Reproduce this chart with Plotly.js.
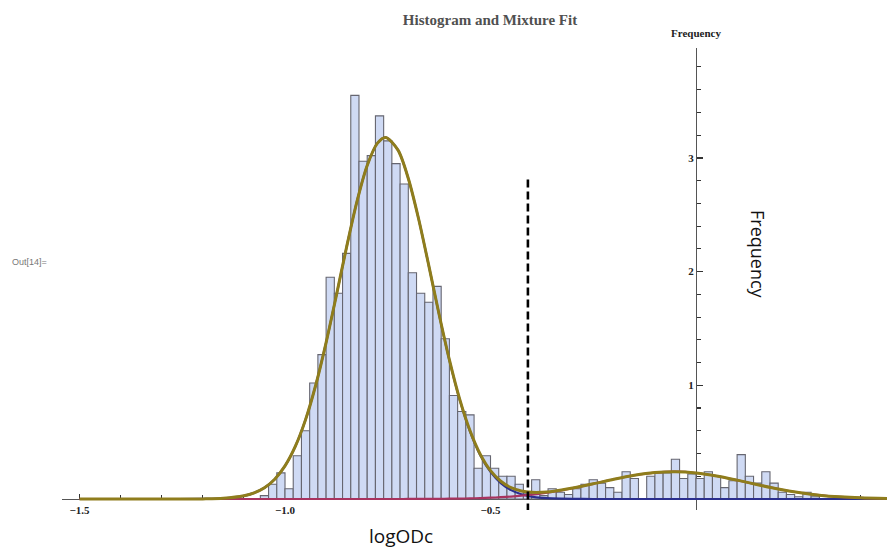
<!DOCTYPE html>
<html><head><meta charset="utf-8">
<script src="https://cdn.plot.ly/plotly-3.0.1.min.js"></script>
<style>html,body{margin:0;padding:0;background:#fff}#chart{width:887px;height:550px}</style>
</head><body><div id="chart"></div>
<script>
// ---- data ----
const binStart = -1.06;
const binWidth = 0.02;
const binCounts = [0.03,0.13,0.23,0.09,0.38,0.60,1.02,1.27,1.95,1.81,2.16,3.55,2.97,3.02,3.37,3.15,2.95,2.77,1.99,1.81,1.73,1.87,1.41,0.91,0.77,0.74,0.27,0.38,0.27,0.20,0.20,0.13,0.05,0.17,0.03,0.09,0.06,0.04,0.09,0.13,0.17,0.14,0.10,0.06,0.24,0.18,0,0.20,0.23,0.23,0.35,0.18,0.22,0.18,0.24,0.20,0.10,0.16,0.39,0.20,0.14,0.24,0.14,0.06,0.04,0.02,0.06,0.02];

const curveX = [-1.5,-1.3,-1.2,-1.15,-1.1,-1.075,-1.05,-1.025,-1.0,-0.975,-0.95,-0.925,-0.9,-0.875,-0.85,-0.825,-0.8,-0.775,-0.755,-0.725,-0.7,-0.675,-0.65,-0.625,-0.6,-0.575,-0.55,-0.525,-0.5,-0.475,-0.45,-0.425,-0.4,-0.375,-0.35,-0.3,-0.25,-0.2,-0.15,-0.1,-0.05,0,0.05,0.1,0.15,0.2,0.25,0.3,0.35,0.4,0.465];
const mixtureTotal = [0,0,0.001,0.006,0.028,0.054,0.099,0.174,0.291,0.462,0.698,1.005,1.376,1.791,2.219,2.616,2.934,3.130,3.180,3.068,2.819,2.465,2.050,1.623,1.223,0.878,0.602,0.394,0.249,0.156,0.100,0.071,0.059,0.059,0.067,0.096,0.134,0.174,0.209,0.233,0.240,0.229,0.203,0.166,0.126,0.088,0.057,0.034,0.019,0.010,0.004];
const component1 = [0,0,0.001,0.006,0.028,0.054,0.099,0.174,0.291,0.462,0.698,1.005,1.376,1.791,2.219,2.616,2.934,3.130,3.180,3.068,2.819,2.464,2.049,1.621,1.220,0.874,0.596,0.386,0.238,0.140,0.078,0.042,0.021,0.010,0.005,0.001,0,0,0,0,0,0,0,0,0,0,0,0,0,0,0];
const component2 = [0,0,0,0,0,0,0,0,0,0,0,0,0,0,0,0,0,0,0,0,0.0004,0.0006,0.001,0.0016,0.0025,0.0037,0.0055,0.0079,0.0113,0.0158,0.0216,0.029,0.0382,0.0494,0.0627,0.095,0.1335,0.1735,0.2088,0.2326,0.240,0.229,0.2025,0.1656,0.1255,0.088,0.0571,0.0343,0.0191,0.0098,0.0037];

const cutoffX = [-0.409, -0.409];
const cutoffY = [2.81, -0.0967];

const xTickVals = [-1.5, -1.0, -0.5];
const xTickText = ['\u22121.5', '\u22121.0', '\u22120.5'];
const yTickVals = [1, 2, 3];
const yTickText = ['1', '2', '3'];

// ---- build ----
const binCenters = binCounts.map((_, i) => +(binStart + (i + 0.5) * binWidth).toFixed(3));

const traces = [
  {type:'bar', x: binCenters, y: binCounts, width: binWidth,
   marker:{color:'#cfdaf4', line:{color:'#666670', width:1.1}}, hoverinfo:'skip', showlegend:false},
  {type:'scatter', mode:'lines', x: curveX, y: component1,
   line:{color:'#2b2f8e', width:2.2, shape:'spline', smoothing:0.8}, hoverinfo:'skip', showlegend:false},
  {type:'scatter', mode:'lines', x: curveX, y: component2,
   line:{color:'#a8335f', width:2.2, shape:'spline', smoothing:0.8}, hoverinfo:'skip', showlegend:false},
  {type:'scatter', mode:'lines', x: curveX, y: mixtureTotal,
   line:{color:'#8f7d1c', width:3, shape:'spline', smoothing:0.8}, hoverinfo:'skip', showlegend:false},
  {type:'scatter', mode:'lines', x: cutoffX, y: cutoffY,
   line:{color:'#000', width:2.6, dash:'8px,4px'}, hoverinfo:'skip', showlegend:false}
];

const W = 887, H = 550;
const layout = {
  width: W, height: H,
  margin:{l:0, r:0, t:0, b:0},
  paper_bgcolor:'#fff', plot_bgcolor:'rgba(0,0,0,0)',
  showlegend:false,
  title:{text:'Histogram and Mixture Fit', x:490/W, xanchor:'center', y:1-20/H, yanchor:'middle',
         font:{family:'Liberation Serif, serif', size:15, color:'#505050', weight:'bold'}},
  xaxis:{domain:[62/W, 1], range:[-1.5426, 0.4647], anchor:'free', position:1-499/H,
         showgrid:false, zeroline:false, showline:true, linecolor:'#555', linewidth:1.3,
         layer:'below traces', automargin:false,
         tickmode:'array', tickvals:xTickVals, ticktext:xTickText,
         ticks:'inside', ticklen:5, tickwidth:1.2, tickcolor:'#333',
         tickfont:{family:'Liberation Serif, serif', size:11, color:'#222', weight:'bold'},
         minor:{tickmode:'linear', tick0:0, dtick:0.1, ticks:'inside', ticklen:4, tickwidth:1.1, tickcolor:'#333', showgrid:false},
         fixedrange:true},
  yaxis:{domain:[40/H, 502/H], range:[-0.0967, 3.9666], anchor:'free', position:696/W,
         showgrid:false, zeroline:false, showline:true, linecolor:'#555', linewidth:1.3,
         layer:'below traces', automargin:false,
         tickmode:'array', tickvals:yTickVals, ticktext:yTickText,
         ticks:'inside', ticklen:6, tickwidth:1.2, tickcolor:'#333',
         tickfont:{family:'Liberation Serif, serif', size:11, color:'#222', weight:'bold'},
         minor:{tickmode:'linear', tick0:0, dtick:0.2, ticks:'inside', ticklen:4, tickwidth:1.1, tickcolor:'#333', showgrid:false},
         fixedrange:true},
  annotations:[
    {xref:'paper', yref:'paper', x:696/W, y:1-33/H, text:'Frequency', showarrow:false,
     xanchor:'center', yanchor:'middle', font:{family:'Liberation Serif, serif', size:11, color:'#222', weight:'bold'}},
    {xref:'paper', yref:'paper', x:10/W, y:1-262/H, text:'Out[14]=', showarrow:false,
     xanchor:'left', yanchor:'middle', font:{family:'Liberation Sans, sans-serif', size:9, color:'#777'}},
    {xref:'paper', yref:'paper', x:758/W, y:1-254/H, text:'Frequency', showarrow:false, textangle:90,
     xanchor:'center', yanchor:'middle', font:{family:'Open Sans, sans-serif', size:18, color:'#111'}},
    {xref:'paper', yref:'paper', x:401/W, y:1-536/H, text:'logODc', showarrow:false,
     xanchor:'center', yanchor:'middle', font:{family:'Open Sans, sans-serif', size:19, color:'#111'}}
  ]
};

Plotly.newPlot('chart', traces, layout, {staticPlot:true, displayModeBar:false});
</script>
</body></html>
